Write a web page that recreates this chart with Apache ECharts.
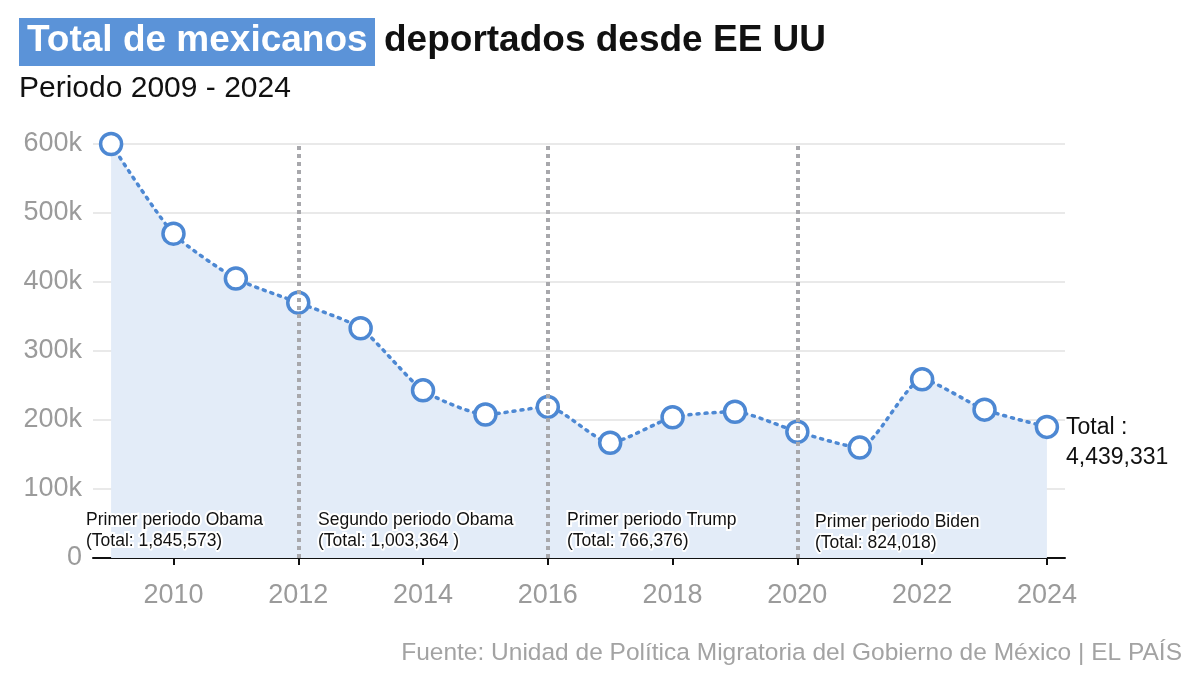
<!DOCTYPE html>
<html lang="es">
<head>
    <meta charset="UTF-8">
    <title>Total de mexicanos deportados desde EE UU</title>
    <script src="https://cdn.jsdelivr.net/npm/echarts@6/dist/echarts.min.js"></script>
    <style>
        * { padding: 0; margin: 0; }
        body { background: #ffffff; }
        #chart { width: 1200px; height: 691px; }
    </style>
</head>
<body>
<div id="chart"></div>
<script>
    // datos
    var years = [2009, 2010, 2011, 2012, 2013, 2014, 2015, 2016, 2017, 2018, 2019, 2020, 2021, 2022, 2023, 2024];
    var deportados = [600000, 470000, 405000, 370000, 333000, 243000, 208000, 219000, 167000, 204000, 212000, 183000, 160000, 259000, 215000, 190000];
    var xTicks = [2010, 2012, 2014, 2016, 2018, 2020, 2022, 2024];
    var periodYears = [2012, 2016, 2020];
    var periodNames = ['Primer periodo Obama', 'Segundo periodo Obama', 'Primer periodo Trump', 'Primer periodo Biden'];
    var periodTotals = ['(Total: 1,845,573)', '(Total: 1,003,364 )', '(Total: 766,376)', '(Total: 824,018)'];
    var totalText = '4,439,331';

    var BLUE = '#4d88d3';
    var FONT = '"Liberation Sans", Arial, sans-serif';

    var chart = echarts.init(document.getElementById('chart'));

    var seriesData = years.map(function (y, i) { return [y, deportados[i]]; });

    // textos de periodos (posicion en pixeles, fuera de los datos)
    var periodX = [84, 316, 565, 813];
    var periodTop = [509, 509, 509, 511];
    var periodGraphics = periodNames.map(function (name, i) {
        return {
            type: 'text',
            left: periodX[i],
            top: periodTop[i],
            z: 100,
            style: {
                text: name + '\n' + periodTotals[i],
                font: '17.5px ' + FONT,
                fill: '#111',
                lineHeight: 21,
                stroke: '#ffffff',
                lineWidth: 4
            }
        };
    });

    chart.setOption({
        backgroundColor: '#ffffff',
        animation: false,
        grid: { left: 93, right: 135, top: 144, bottom: 133 },
        xAxis: {
            type: 'value',
            min: 2008.71,
            max: 2024.29,
            splitLine: { show: false },
            axisLine: { show: true, lineStyle: { color: '#111', width: 2 } },
            axisTick: { show: true, customValues: xTicks, length: 7, lineStyle: { color: '#111', width: 2 } },
            axisLabel: {
                customValues: xTicks,
                color: '#9b9b9b',
                fontSize: 27,
                fontFamily: FONT,
                margin: 24,
                formatter: function (v) { return String(v); }
            }
        },
        yAxis: {
            type: 'value',
            min: 0,
            max: 600000,
            interval: 100000,
            axisLine: { show: false },
            axisTick: { show: false },
            splitLine: { lineStyle: { color: '#e2e2e2', width: 1.5 } },
            axisLabel: {
                color: '#9b9b9b',
                fontSize: 27,
                fontFamily: FONT,
                margin: 11,
                formatter: function (v) { return v === 0 ? '0' : (v / 1000) + 'k'; }
            }
        },
        series: [{
            type: 'line',
            data: seriesData,
            smooth: 0.2,
            symbol: 'circle',
            symbolSize: 21,
            itemStyle: { color: '#ffffff', borderColor: BLUE, borderWidth: 3.5 },
            lineStyle: { color: BLUE, width: 3.5, type: [2, 6], cap: 'round' },
            areaStyle: { color: '#e3ecf8', opacity: 1 },
            z: 3
        }, {
            // lineas verticales de cambio de periodo
            type: 'line',
            data: [],
            z: 4,
            markLine: {
                silent: true,
                symbol: 'none',
                label: { show: false },
                lineStyle: { color: '#a8a8ac', width: 4, type: [4, 4] },
                data: periodYears.map(function (y) { return { xAxis: y }; })
            }
        }],
        graphic: [
            {
                type: 'rect',
                left: 19,
                top: 18,
                shape: { width: 356, height: 48 },
                style: { fill: '#5b93d8' }
            },
            {
                type: 'text',
                left: 27,
                top: 22,
                style: {
                    text: 'Total de mexicanos',
                    font: 'bold 37px ' + FONT,
                    fill: '#ffffff'
                }
            },
            {
                type: 'text',
                left: 384,
                top: 22,
                style: {
                    text: 'deportados desde EE UU',
                    font: 'bold 37px ' + FONT,
                    fill: '#111111'
                }
            },
            {
                type: 'text',
                left: 19,
                top: 74,
                style: {
                    text: 'Periodo 2009 - 2024',
                    font: '30px ' + FONT,
                    fill: '#111111'
                }
            },
            {
                type: 'text',
                left: 1066,
                top: 413,
                style: {
                    text: 'Total :\n' + totalText,
                    font: '23px ' + FONT,
                    fill: '#111111',
                    lineHeight: 30
                }
            },
            {
                type: 'text',
                right: 18,
                top: 641,
                style: {
                    text: 'Fuente: Unidad de Política Migratoria del Gobierno de México | EL PAÍS',
                    font: '24.5px ' + FONT,
                    fill: '#a3a3a3'
                }
            }
        ].concat(periodGraphics)
    });
</script>
</body>
</html>
